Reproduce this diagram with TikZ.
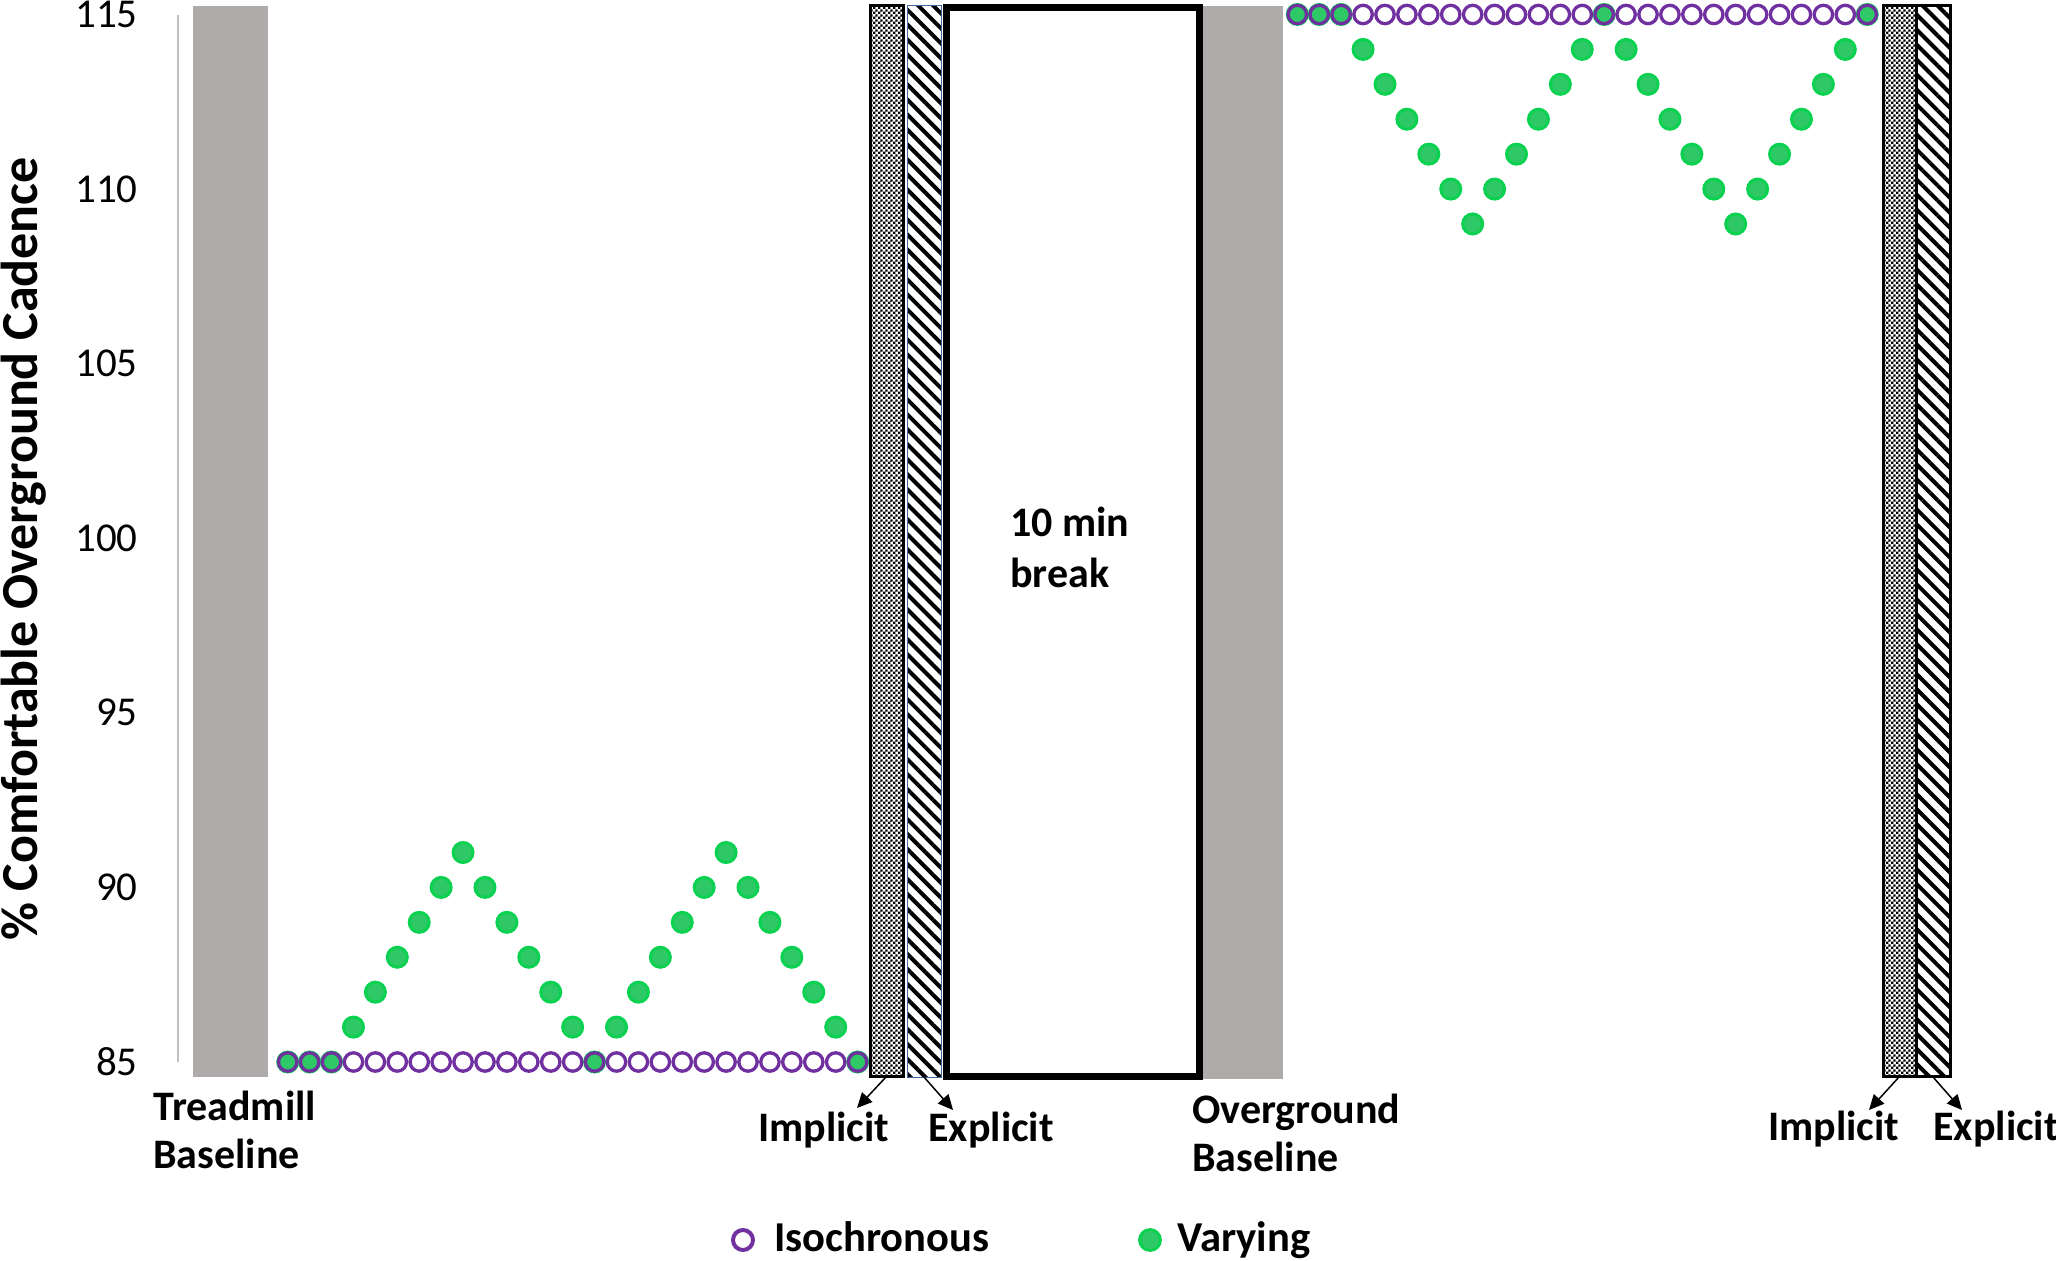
\documentclass[tikz,border=0pt]{standalone}
\usepackage{fontspec}
\setmainfont{Carlito}
\usetikzlibrary{arrows.meta,patterns.meta}
\definecolor{barGray}{RGB}{175,171,171}
\definecolor{axGray}{RGB}{191,191,191}
\definecolor{isoPurple}{RGB}{112,48,160}
\definecolor{varEdge}{RGB}{10,210,80}
\definecolor{varFill}{RGB}{46,200,102}
\definecolor{expBlue}{RGB}{68,100,160}
\pgfdeclarepattern{
  name=smallchecker, type=uncolored,
  bottom left={\pgfpointorigin}, top right={\pgfpoint{2.4pt}{2.4pt}},
  tile size={\pgfpoint{2.4pt}{2.4pt}},
  code={
    \pgfpathrectangle{\pgfpointorigin}{\pgfpoint{1.2pt}{1.2pt}}
    \pgfpathrectangle{\pgfpoint{1.2pt}{1.2pt}}{\pgfpoint{1.2pt}{1.2pt}}
    \pgfusepath{fill}
  }}
\begin{document}
\begin{tikzpicture}[x=0.5pt,y=-0.5pt,
  tick/.style={anchor=east,inner sep=0pt,font=\fontsize{20.5}{24}\selectfont},
  lab/.style={anchor=base west,inner sep=0pt,font=\bfseries\fontsize{21}{25}\selectfont},
  leglab/.style={anchor=base west,inner sep=0pt,font=\bfseries\fontsize{21.3}{25}\selectfont},
  basebar/.style={fill=barGray},
  implbox/.style={pattern=smallchecker,pattern color=black,draw=black,line width=1.5pt},
  explbox/.style={pattern={Lines[angle=-45,distance=5.3pt,line width=2pt]},pattern color=black},
  iso/.style={draw=isoPurple,line width=1.65pt},
  vary/.style={fill=varFill,draw=varEdge,line width=1.5pt},
  ptr/.style={-{Triangle[length=7.5pt,width=7pt]},line width=0.75pt},
  breakbox/.style={draw=black,line width=3.35pt,fill=white}
]
\useasboundingbox (0,0) rectangle (2056,1261);
\fill[white] (0,0) rectangle (2056,1261);

% axis
\draw[axGray,line width=0.75pt] (178,15) -- (178,1062);
\foreach \v in {85,90,...,115}
  \node[tick] (t\v) at (138,{1062-(\v-85)*34.917}) {\v};

% y label
\node[anchor=base,rotate=90,inner sep=0pt,font=\bfseries\fontsize{26}{30}\selectfont]
  (ylab) at (37,549) {\% Comfortable Overground Cadence};

% baseline bars
\fill[basebar] (193,6) rectangle (268,1077);
\fill[basebar] (1203,6) rectangle (1283,1079);

% break box
\draw[breakbox] (946.3,7.3) rectangle (1199.7,1076.7);
\node[lab] (brk1) at (1010,537) {10 min};
\node[lab] (brk2) at (1010,588) {break};

% left implicit / explicit boxes
\draw[implbox] (870.5,5.5) rectangle (903.5,1076.5);
\fill[explbox] (907.5,5.5) rectangle (941.5,1077.5);
\draw[expBlue,line width=0.75pt] (907.5,5.5) rectangle (941.5,1077.5);

% right implicit / explicit boxes
\draw[implbox] (1883.5,5.5) rectangle (1916.5,1076.5);
\fill[explbox] (1916.5,5.5) rectangle (1950.5,1076.5);
\draw[black,line width=1.5pt] (1916.5,5.5) rectangle (1950.5,1076.5);

% arrows
\coordinate (iL) at (886,1077);
\coordinate (iLt) at (857,1108);
\coordinate (eL) at (924,1077);
\coordinate (eLt) at (953,1110);
\coordinate (iR) at (1899,1077);
\coordinate (iRt) at (1869,1110);
\coordinate (eR) at (1933,1077);
\coordinate (eRt) at (1962,1110);
\draw[ptr] (iL) -- (iLt);
\draw[ptr] (eL) -- (eLt);
\draw[ptr] (iR) -- (iRt);
\draw[ptr] (eR) -- (eRt);

% labels
\node[lab] (impL) at (758,1141) {Implicit};
\node[lab] (expL) at (928,1141) {Explicit};
\node[lab] (impR) at (1768,1140) {Implicit};
\node[lab] (expR) at (1933,1140) {Explicit};
\node[lab] (tb1) at (153,1120) {Treadmill};
\node[lab] (tb2) at (153,1168) {Baseline};
\node[lab] (ob1) at (1192,1123) {Overground};
\node[lab] (ob2) at (1192,1171) {Baseline};

% varying dots
\foreach \v [count=\i from 0] in {85,85,85,86,87,88,89,90,91,90,89,88,87,86,85,86,87,88,89,90,91,90,89,88,87,86,85}
  \draw[vary] ({287.7+\i*21.92},{1062-(\v-85)*34.917}) circle[radius=5pt];
\foreach \v [count=\i from 0] in {115,115,115,114,113,112,111,110,109,110,111,112,113,114,115,114,113,112,111,110,109,110,111,112,113,114,115}
  \draw[vary] ({1297.3+\i*21.92},{1062-(\v-85)*34.917}) circle[radius=5pt];
% isochronous rings
\foreach \i in {0,...,26}{
  \draw[iso] ({287.7+\i*21.92},1062) circle[radius=4.6pt];
  \draw[iso] ({1297.3+\i*21.92},14.5) circle[radius=4.6pt];
}

% legend
\draw[iso,line width=2pt] (743,1240) circle[radius=5pt];
\node[leglab] (legIso) at (774,1251) {Isochronous};
\draw[vary] (1150,1240) circle[radius=5.2pt];
\node[leglab] (legVar) at (1177,1251) {Varying};
\end{tikzpicture}
\end{document}
